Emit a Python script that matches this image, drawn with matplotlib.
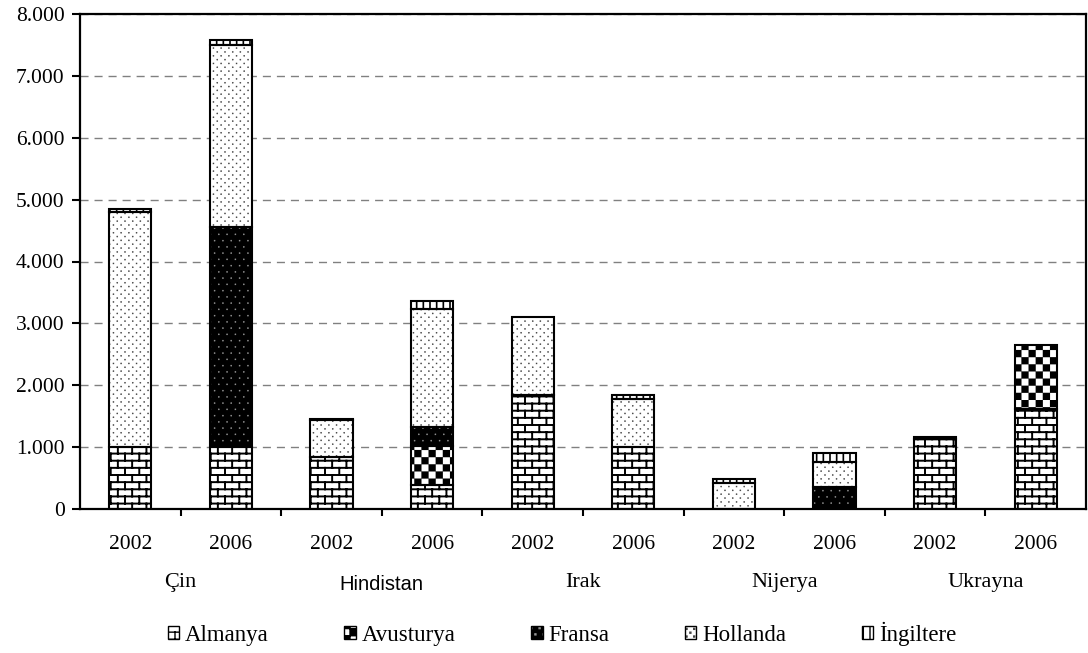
import warnings
import numpy as np
import matplotlib
matplotlib.use('Agg')
import matplotlib.pyplot as plt
import matplotlib.legend_handler
from matplotlib import hatch as mhatch
from matplotlib.path import Path
from matplotlib.patches import Rectangle

warnings.filterwarnings('ignore')

# ---------------- data ----------------
countries = ['Çin', 'Hindistan', 'Irak', 'Nijerya', 'Ukrayna']
years = ['2002', '2006']
almanya = [1000, 1000, 845, 390, 1850, 1000, 0, 0, 1130, 1615]
avusturya = [0, 0, 0, 630, 0, 0, 0, 0, 0, 1035]
fransa = [0, 3560, 0, 310, 0, 0, 0, 350, 30, 0]
hollanda = [3800, 2940, 595, 1895, 1255, 770, 415, 415, 0, 0]
ingiltere = [45, 80, 20, 140, 0, 80, 75, 145, 0, 0]
series_names = ['Almanya', 'Avusturya', 'Fransa', 'Hollanda', 'İngiltere']
y_ticks = [0, 1000, 2000, 3000, 4000, 5000, 6000, 7000, 8000]

# ---------------- custom hatch patterns ----------------
MOVE, LINE, CLOSE = Path.MOVETO, Path.LINETO, Path.CLOSEPOLY


def _brick(rows=14, cols=7):
    V, C = [], []
    h, w = 1.0 / rows, 1.0 / cols
    for k in range(rows):
        y = (k + 0.5) * h
        V += [(0, y), (1, y)]
        C += [MOVE, LINE]
    for k in range(-1, rows):
        y0 = max((k + 0.5) * h, 0.0)
        y1 = min((k + 1.5) * h, 1.0)
        off = 0.5 if k % 2 else 0.0
        for j in range(cols):
            xx = ((j + 0.25 + off) * w) % 1.0
            V += [(xx, y0), (xx, y1)]
            C += [MOVE, LINE]
    return V, C


def _square(cx, cy, s):
    h = s / 2
    return ([(cx - h, cy - h), (cx + h, cy - h), (cx + h, cy + h), (cx - h, cy + h), (cx - h, cy - h)],
            [MOVE, LINE, LINE, LINE, CLOSE])


def _checker(n=14):
    V, C = [], []
    s = 1.0 / n
    for i in range(n):
        for j in range(n):
            if (i + j) % 2 == 0:
                v, c = _square((i + 0.5) * s, (j + 0.5) * s, s)
                V += v
                C += c
    return V, C


def _dots(cols, rows, size):
    V, C = [], []
    for r in range(rows):
        y = (r + 0.5) / rows
        off = 0.5 if r % 2 else 0.0
        for c in range(cols):
            xx = (c + 0.25 + off) / cols
            v, cc = _square(xx, y, size)
            V += v
            C += cc
    return V, C


def _vlines(n=15):
    V, C = [], []
    for j in range(n):
        xx = (j + 0.5) / n
        V += [(xx, 0), (xx, 1)]
        C += [MOVE, LINE]
    return V, C


def _make_hatch(char, builder):
    class _H(mhatch.HatchPatternBase):
        def __init__(self, hatch, density):
            if char in hatch:
                v, c = builder()
                self.v = np.array(v, float)
                self.c = np.array(c, dtype=Path.code_type)
            else:
                self.v = np.empty((0, 2))
                self.c = np.empty(0, dtype=Path.code_type)
            self.num_vertices = len(self.v)

        def set_vertices_and_codes(self, vertices, codes):
            vertices[:] = self.v
            codes[:] = self.c
    return _H


mhatch._hatch_types.extend([
    _make_hatch('B', _brick),
    _make_hatch('C', _checker),
    _make_hatch('D', lambda: _dots(13, 26, 0.010)),
    _make_hatch('E', lambda: _dots(12, 16, 0.010)),
    _make_hatch('V', _vlines),
])

styles = {
    'Almanya': dict(face='white', hcolor='black', hatch='B', hlw=1.4),
    'Avusturya': dict(face='white', hcolor='black', hatch='C', hlw=0.1),
    'Fransa': dict(face='black', hcolor='#9a9a9a', hatch='E', hlw=0.3),
    'Hollanda': dict(face='white', hcolor='#404040', hatch='D', hlw=0.3),
    'İngiltere': dict(face='white', hcolor='black', hatch='V', hlw=1.2),
}


def _set_hlw(patch, lw):
    if hasattr(patch, 'set_hatch_linewidth'):
        patch.set_hatch_linewidth(lw)


# ---------------- figure ----------------
plt.rcParams['font.family'] = ['Liberation Serif', 'DejaVu Serif']
plt.rcParams['hatch.linewidth'] = 1.0

W, H = 1088, 653
fig = plt.figure(figsize=(W / 100, H / 100), dpi=100)
ax = fig.add_axes([80 / W, 1 - 509 / H, (1086 - 80) / W, (509 - 14) / H])

x = np.arange(len(almanya))
width = 0.42
data = [almanya, avusturya, fransa, hollanda, ingiltere]
bottom = np.zeros(len(x))
handles = []
for name, vals in zip(series_names, data):
    st = styles[name]
    vals = np.array(vals, float)
    m = vals > 0
    fills = ax.bar(x[m], vals[m], width, bottom=bottom[m], color=st['face'],
                   edgecolor=st['hcolor'], linewidth=0, hatch=st['hatch'], zorder=2)
    for p in fills:
        _set_hlw(p, st['hlw'])
    ax.bar(x[m], vals[m], width, bottom=bottom[m], fill=False,
           edgecolor='black', linewidth=1.5, zorder=3)
    bottom += vals
    hp = Rectangle((0, 0), 1, 1, facecolor=st['face'], edgecolor=st['hcolor'],
                   linewidth=0, hatch=st['hatch'])
    _set_hlw(hp, st['hlw'])
    op = Rectangle((0, 0), 1, 1, fill=False, edgecolor='black', linewidth=1.0)
    handles.append((hp, op))

ax.set_xlim(-0.5, len(x) - 0.5)
ax.set_ylim(0, 8000)
ax.set_yticks(y_ticks)
ax.set_yticklabels([f"{v:,}".replace(',', '.') for v in y_ticks], fontsize=15.5)
ax.yaxis.grid(True, color='#808080', linewidth=1.0, linestyle=(0, (5.8, 4.3)))
ax.set_axisbelow(True)

ax.set_xticks(x)
ax.set_xticklabels([years[i % 2] for i in x], fontsize=15.5)
ax.set_xticks(np.arange(0.5, len(x) - 0.5, 1.0), minor=True)
ax.tick_params(axis='x', which='major', length=0, pad=19)
ax.tick_params(axis='x', which='minor', length=5, width=1.5, direction='out')
ax.tick_params(axis='y', which='major', length=6, width=1.5, direction='out', pad=5)

for s in ax.spines.values():
    s.set_linewidth(1.6)

for i, c in enumerate(countries):
    cx = 2 * i + 0.5
    if c == 'Hindistan':
        ax.annotate(c, xy=(cx, 0), xycoords=('data', 'axes fraction'),
                    xytext=(0, -54), textcoords='offset points', ha='center', va='center',
                    fontsize=14.5, family=['Liberation Sans', 'DejaVu Sans'])
    else:
        ax.annotate(c, xy=(cx, 0), xycoords=('data', 'axes fraction'),
                    xytext=(0, -53), textcoords='offset points', ha='center', va='center',
                    fontsize=16)

fig.legend(handles, series_names, loc='center', bbox_to_anchor=(562 / W, 1 - 634 / H),
           ncol=5, frameon=False, fontsize=16.5, handlelength=0.5, handleheight=0.5,
           handletextpad=0.25, columnspacing=3.3, borderpad=0,
           handler_map={tuple: matplotlib.legend_handler.HandlerTuple(ndivide=1)})

fig.savefig('out.png', dpi=100)
